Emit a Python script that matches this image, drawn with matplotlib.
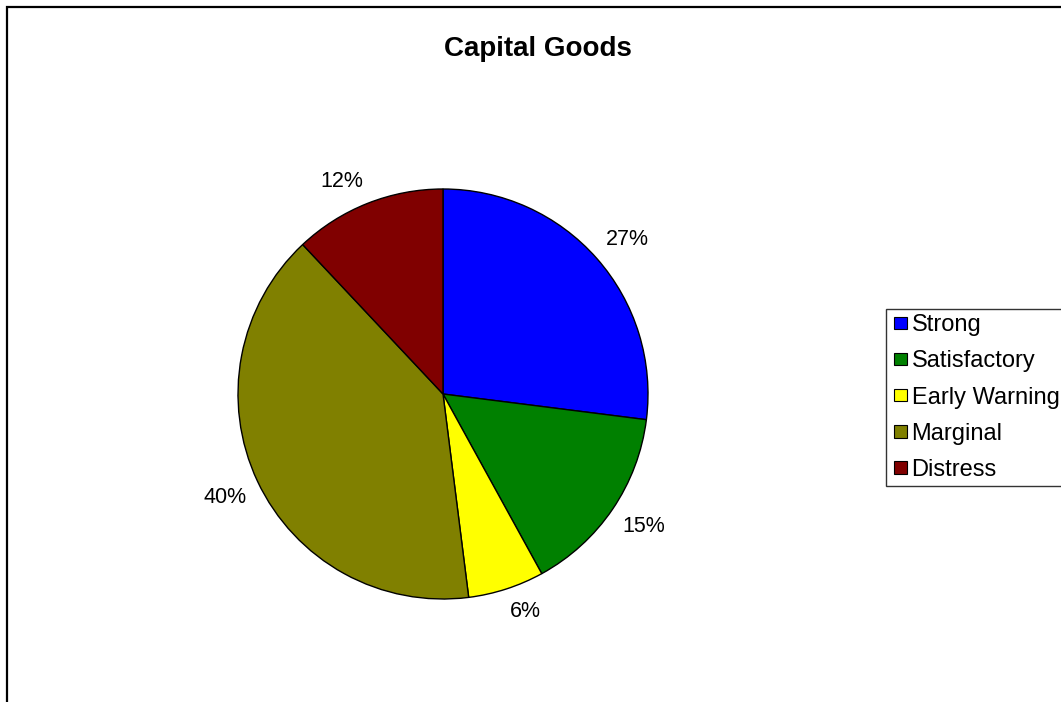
import matplotlib
matplotlib.use("Agg")
import matplotlib.pyplot as plt
from matplotlib.patches import Rectangle, Patch
from matplotlib.legend_handler import HandlerPatch

plt.rcParams['font.family'] = ['Liberation Sans', 'DejaVu Sans']

categories = ["Strong", "Satisfactory", "Early Warning", "Marginal", "Distress"]
shares = [27, 15, 6, 40, 12]
colors = ["#0000FF", "#008000", "#FFFF00", "#808000", "#800000"]

W, H = 1061, 702
fig = plt.figure(figsize=(W / 100, H / 100), dpi=100)
fig.patch.set_facecolor("white")

# outer chart border (runs past the right and bottom edges)
fig.patches.append(Rectangle((7 / W, -0.1), 1.2, (H - 7) / H + 0.1,
                             transform=fig.transFigure, fill=False,
                             edgecolor="black", linewidth=1.6, zorder=0))

# pie area: centre (443, 394) px, radius 205 px
cx, cy, r = 443, 394, 205
ax = fig.add_axes([(cx - r) / W, (H - cy - r) / H, 2 * r / W, 2 * r / H])
wedges, texts = ax.pie(
    shares, colors=colors, startangle=90, counterclock=False, radius=1,
    wedgeprops=dict(edgecolor="black", linewidth=1.0),
    labels=[f"{v}%" for v in shares], labeldistance=1.06,
    textprops=dict(fontsize=15.5, color="black"),
)
# outside-end labels: the corner nearest the pie sits on the slice's mid ray
for t in texts:
    x, y = t.get_position()
    t.set_horizontalalignment("left" if x >= 0 else "right")
    t.set_verticalalignment("bottom" if y >= 0 else "top")
ax.set_xlim(-1, 1)
ax.set_ylim(-1, 1)
ax.set_aspect("equal")
ax.axis("off")

fig.text(538 / W, 1 - 49 / H, "Capital Goods", ha="center", va="center",
         fontsize=20, fontweight="bold")


def square_key(legend, orig_handle, xdescent, ydescent, width, height, fontsize):
    # small square key pushed to the right end of the handle box
    return Rectangle((-xdescent + width - height, -ydescent), height, height)


handles = [Patch(facecolor=c, edgecolor="black", linewidth=0.8) for c in colors]
leg = fig.legend(handles, categories, loc="upper left",
                 bbox_to_anchor=(886 / W, 1 - 309 / H),
                 frameon=True, fancybox=False, shadow=False,
                 fontsize=17, handlelength=0.66, handleheight=0.44,
                 handletextpad=0.2, labelspacing=0.6, borderpad=0.22,
                 borderaxespad=0,
                 handler_map={Patch: HandlerPatch(patch_func=square_key)})
leg.get_frame().set_edgecolor("black")
leg.get_frame().set_linewidth(1.0)

fig.savefig("out.png", dpi=100, facecolor="white")
